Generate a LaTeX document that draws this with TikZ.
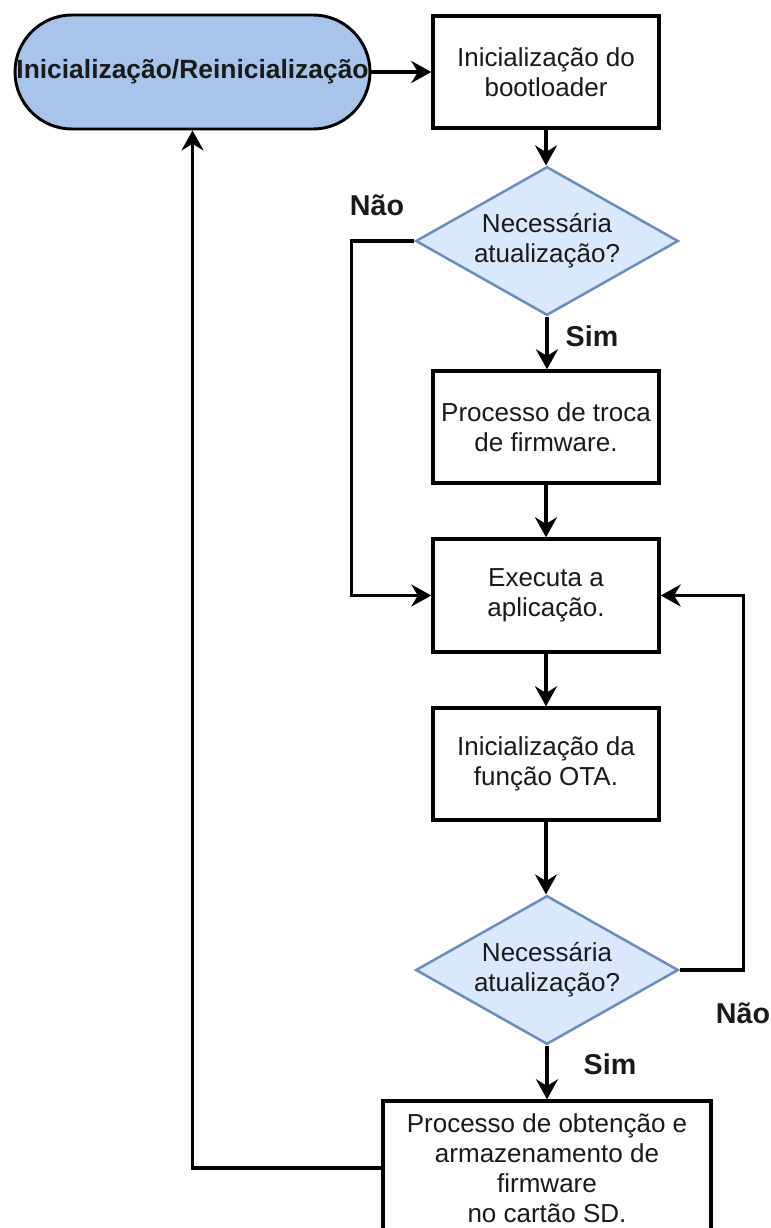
\documentclass[tikz,border=0pt]{standalone}
\usepackage{fontspec}
\setmainfont{Liberation Sans}
\usetikzlibrary{arrows.meta,shapes.geometric}

\definecolor{termfill}{HTML}{A9C4EB}
\definecolor{decfill}{HTML}{DAE8FC}
\definecolor{decline}{HTML}{6C8EBF}
\definecolor{txt}{HTML}{1A1A1A}

\tikzset{
  x=0.75pt, y=-0.75pt,
  basefont/.style={font=\fontsize{19.5pt}{22.5pt}\selectfont, text=txt},
  terminal/.style={basefont, font=\fontsize{19.8pt}{22.5pt}\selectfont\bfseries,
    draw=black, line width=2.2pt, fill=termfill, rounded corners=42.75pt,
    minimum width=266.25pt, minimum height=85.5pt, inner sep=0pt},
  procbox/.style={basefont, draw=black, line width=2.6pt, fill=white,
    minimum width=169.5pt, minimum height=84pt, align=center, inner sep=2pt},
  decision/.style={basefont, diamond, aspect=1.77, draw=decline, line width=1.9pt,
    fill=decfill, minimum width=197pt, minimum height=111.5pt, inner sep=0pt,
    align=center},
  flow/.style={line width=2.3pt, draw=black,
    -{Stealth[length=15pt, width=16.5pt, inset=5pt]}},
  branch/.style={font=\fontsize{21.5pt}{24pt}\selectfont\bfseries, text=txt}
}

\begin{document}
\begin{tikzpicture}
  \useasboundingbox (0,0) rectangle (771,1228);
  \clip (0,0) rectangle (771,1228);

  % nodes of the flow
  \node[terminal] (start) at (192.5,72) {Inicialização/Reinicialização};
  \node[procbox] (boot) at (546,72) {Inicialização do\\bootloader};
  \node[decision] (dec1) at (547,241) {Necessária\\atualização?};
  \node[procbox] (swap) at (546,427) {Processo de troca\\de firmware.};
  \node[procbox, minimum height=84.75pt] (run) at (546,595.5) {Executa a\\aplicação.};
  \node[procbox] (ota) at (546,764) {Inicialização da\\função OTA.};
  \node[decision] (dec2) at (547,970) {Necessária\\atualização?};
  \node[procbox, minimum width=246pt, minimum height=100.5pt] (fetch) at (547,1168)
        {Processo de obtenção e\\armazenamento de\\firmware\\no cartão SD.};

  % connectors
  \draw[flow] (start.east) -- (start.east -| boot.west);
  \draw[flow] (boot.south) -- (boot.south |- dec1.north);
  \draw[flow] (dec1.south) -- (dec1.south |- swap.north);
  \draw[flow] (swap.south) -- (run.north);
  \draw[flow] (dec1.west) -- ++(-63,0) |- (run.west);
  \draw[flow] (run.south) -- (ota.north);
  \draw[flow] (ota.south) -- (ota.south |- dec2.north);
  \draw[flow] (dec2.east) -- ++(64,0) |- (run.east);
  \draw[flow] (dec2.south) -- (dec2.south |- fetch.north);
  \draw[flow] (fetch.west) -| (start.south);

  % branch labels
  \node[branch] (no1) at (377,205) {Não};
  \node[branch] (yes1) at (592,336) {Sim};
  \node[branch] (no2) at (743,1013) {Não};
  \node[branch] (yes2) at (610,1064) {Sim};
\end{tikzpicture}
\end{document}
